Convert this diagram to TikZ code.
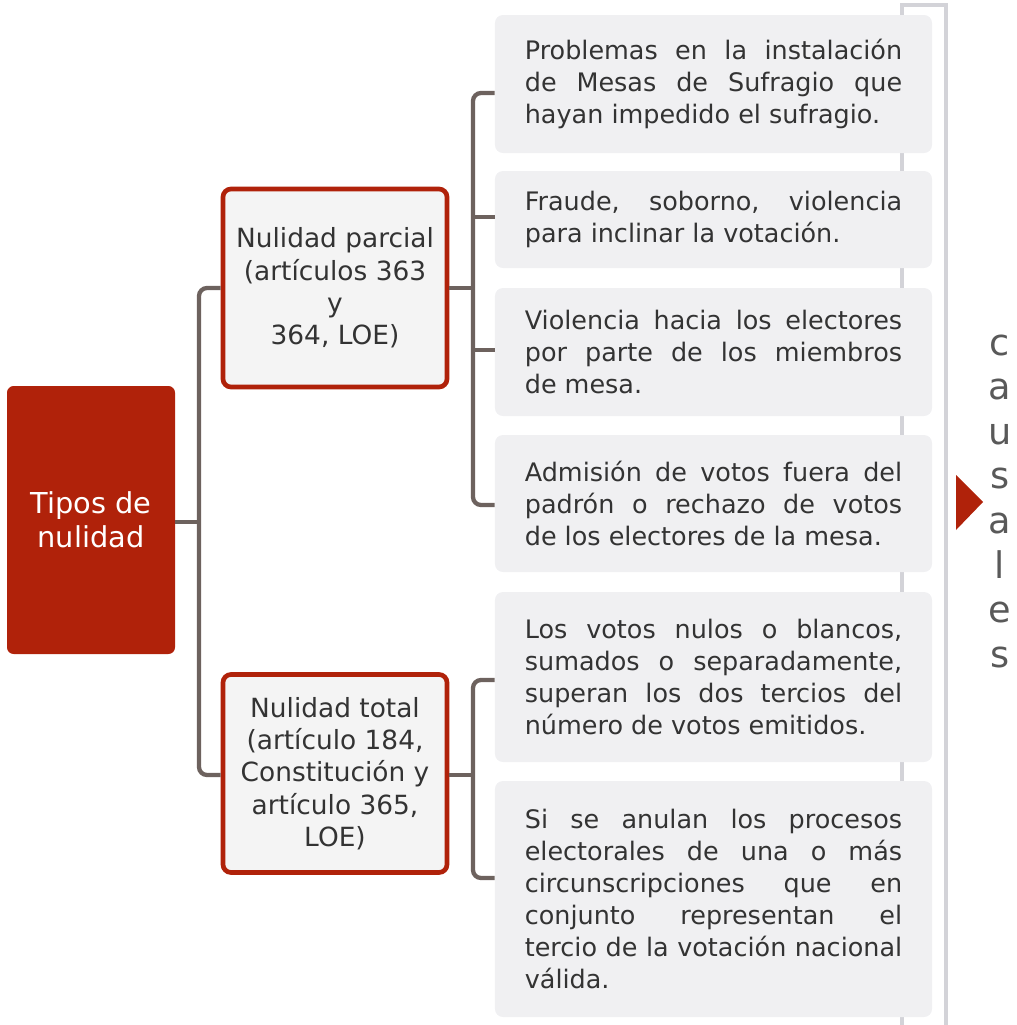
\documentclass[tikz,border=0pt]{standalone}
\usepackage{fontspec}
\setmainfont{DejaVu Sans}
\definecolor{redC}{HTML}{B0220A}
\definecolor{lineC}{HTML}{6D625E}
\definecolor{boxC}{HTML}{F0F0F2}
\definecolor{midC}{HTML}{F4F4F4}
\definecolor{txtC}{HTML}{333333}
\definecolor{brkC}{HTML}{D3D3D8}
\definecolor{letC}{HTML}{595959}
\begin{document}
\begin{tikzpicture}[x=0.75pt,y=-0.75pt,
  conn/.style={draw=lineC, line width=3.2pt, rounded corners=6pt},
  rbox/.style={fill=boxC, rounded corners=6pt, minimum width=327.75pt, text width=283pt,
    inner xsep=22.4pt, inner ysep=0pt, align=justify,
    font=\fontsize{19.1pt}{24pt}\selectfont, text=txtC},
  mbox/.style={draw=redC, line width=3.5pt, fill=midC, rounded corners=6pt,
    minimum width=168pt, minimum height=148.5pt, inner sep=0pt, align=center,
    font=\fontsize{19.8pt}{24.2pt}\selectfont, text=txtC},
  rootbox/.style={fill=redC, rounded corners=5pt, minimum width=126pt, minimum height=201pt,
    inner sep=0pt, align=center, font=\fontsize{21.6pt}{25.5pt}\selectfont, text=white},
  letter/.style={font=\fontsize{27.5pt}{30pt}\selectfont, text=letC, anchor=base, inner sep=0pt}
]
\useasboundingbox (0,0) rectangle (1017,1025);

% gray bracket behind the boxes
\draw[draw=brkC, line width=2.4pt] (902,1030) -- (902,5) -- (946,5) -- (946,1030);

% nodes
\node[rootbox] (root) at (91,520) {Tipos de\\nulidad};
\node[mbox] (pp) at (335,288) {Nulidad parcial\\(artículos 363\\y\\364, LOE)};
\node[mbox] (tt) at (335,773.5) {Nulidad total\\(artículo 184,\\Constitución y\\artículo 365,\\LOE)};

\node[rbox, minimum height=103.5pt] (r1) at (713.5,84)
  {Problemas en la instalación\linebreak de Mesas de Sufragio que\linebreak hayan impedido el sufragio.};
\node[rbox, minimum height=72.75pt] (r2) at (713.5,219.5)
  {Fraude, soborno, violencia\linebreak para inclinar la votación.};
\node[rbox, minimum height=96pt] (r3) at (713.5,352)
  {Violencia hacia los electores\linebreak por parte de los miembros\linebreak de mesa.};
\node[rbox, minimum height=102.75pt] (r4) at (713.5,503.5)
  {Admisión de votos fuera del\linebreak padrón o rechazo de votos\linebreak de los electores de la mesa.};
\node[rbox, minimum height=127.5pt] (r5) at (713.5,677)
  {Los votos nulos o blancos,\linebreak sumados o separadamente,\linebreak superan los dos tercios del\linebreak número de votos emitidos.};
\node[rbox, minimum height=177pt] (r6) at (713.5,899)
  {Si se anulan los procesos\linebreak electorales de una o más\linebreak circunscripciones que en\linebreak conjunto representan el\linebreak tercio de la votación nacional\linebreak válida.};

% connectors: root level
\draw[conn] (pp.west) -- (199,288) -- (199,775) -- (tt.west |- 0,775);
\draw[conn] (root.east |- 0,522) -- (199,522);

% connectors: partial
\draw[conn] (r1.west |- 0,93) -- (473,93) -- (473,505) -- (r4.west |- 0,505);
\draw[conn] (pp.east) -- (473,288);
\draw[conn] (473,217) -- (r2.west |- 0,217);
\draw[conn] (473,350) -- (r3.west |- 0,350);

% connectors: total
\draw[conn] (r5.west |- 0,680) -- (473,680) -- (473,878) -- (r6.west |- 0,878);
\draw[conn] (tt.east |- 0,775) -- (473,775);

% triangle marker
\coordinate (t1) at (956,475);
\coordinate (t2) at (983,502);
\coordinate (t3) at (956,530);
\fill[redC] (t1) -- (t2) -- (t3) -- cycle;

% vertical word
\foreach \ch [count=\i from 0] in {c,a,u,s,a,l,e,s}
  \node[letter] (L\i) at (1000,355+44.6*\i) {\ch};
\end{tikzpicture}
\end{document}
